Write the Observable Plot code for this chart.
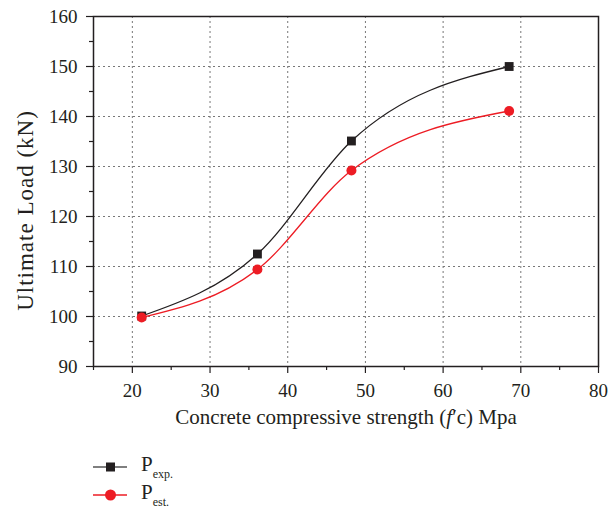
<!DOCTYPE html>
<html><head><meta charset="utf-8">
<script src="https://cdn.jsdelivr.net/npm/d3@7"></script>
<script src="https://cdn.jsdelivr.net/npm/@observablehq/plot@0.6"></script>
<style>
body{margin:0;background:#fff;font-family:"Liberation Serif",serif;color:#231f20;}
#wrap{position:relative;width:610px;height:511px;}
#legend{position:absolute;left:91px;top:453px;font-size:21px;}
.row{display:flex;align-items:center;height:28px;}
.row svg{margin-right:12px;}
sub{font-size:12px;vertical-align:-7px;}
</style></head><body><div id="wrap"><div id="chart"></div><div id="legend"></div></div><script>
const strength = [21.2, 36.1, 48.2, 68.5];
const pExp = [100.1, 112.5, 135.1, 150];
const pEst = [99.8, 109.4, 129.2, 141.1];
const xTicks = [20, 30, 40, 50, 60, 70, 80];
const xMinor = [15, 25, 35, 45, 55, 65, 75];
const yTicks = [90, 100, 110, 120, 130, 140, 150, 160];
const yMinor = [95, 105, 115, 125, 135, 145, 155];
const seriesNames = ["exp.", "est."];
const colors = ["#231f20", "#ed1c24"];
const xLabel = "Concrete compressive strength (f'c) Mpa";
const yLabel = "Ultimate Load (kN)";

const expData = strength.map((x, i) => ({x, y: pExp[i]}));
const estData = strength.map((x, i) => ({x, y: pEst[i]}));

const chart = Plot.plot({
  width: 610, height: 440,
  marginLeft: 93, marginRight: 12, marginTop: 16, marginBottom: 74,
  style: {fontFamily: "Liberation Serif, serif", fontSize: "19px", color: "#231f20", background: "#fff"},
  x: {domain: [15, 80]},
  y: {domain: [90, 160]},
  marks: [
    Plot.gridX(xTicks.filter(t => t > 15 && t < 80), {stroke: "#777", strokeOpacity: 1, strokeDasharray: "2,3", strokeWidth: 1}),
    Plot.gridY(yTicks.filter(t => t > 90 && t < 160), {stroke: "#777", strokeOpacity: 1, strokeDasharray: "2,3", strokeWidth: 1}),
    Plot.axisX(xMinor, {tickSize: 4, text: null, label: null, strokeWidth: 1.2}),
    Plot.axisY(yMinor, {tickSize: 4, text: null, label: null, strokeWidth: 1.2}),
    Plot.axisX(xTicks, {tickSize: 7, tickPadding: 10, fontSize: 19, strokeWidth: 1.2, label: null}),
    Plot.axisY(yTicks, {tickSize: 7, tickPadding: 9, fontSize: 19, strokeWidth: 1.2, label: null}),
    Plot.text([xLabel], {text: d => d, frameAnchor: "bottom", dy: 57, fontSize: 21, fill: "#231f20"}),
    Plot.text([yLabel], {text: d => d, frameAnchor: "left", textAnchor: "middle", dx: -68, dy: 19, rotate: -90, fontSize: 23, fill: "#231f20"}),
    Plot.frame({stroke: "#231f20", strokeWidth: 1.5}),
    Plot.line(expData, {x: "x", y: "y", curve: "monotone-x", stroke: colors[0], strokeWidth: 1.3}),
    Plot.line(estData, {x: "x", y: "y", curve: "monotone-x", stroke: colors[1], strokeWidth: 1.3}),
    Plot.dot(expData, {x: "x", y: "y", symbol: "square", r: 5, fill: colors[0], stroke: null}),
    Plot.dot(estData, {x: "x", y: "y", symbol: "circle", r: 5, fill: colors[1], stroke: null})
  ]
});
document.getElementById("chart").appendChild(chart);

// italic f in the x label, spacing on the y label
d3.select(chart).selectAll("text").each(function() {
  const t = d3.select(this);
  if (t.text() === xLabel) {
    t.text(null);
    t.append("tspan").text("Concrete compressive strength (");
    t.append("tspan").style("font-style", "italic").text("f");
    t.append("tspan").text("′c) Mpa");
  } else if (t.text() === yLabel) {
    t.style("letter-spacing", "1px");
  }
});

// legend
const legend = d3.select("#legend");
seriesNames.forEach((name, i) => {
  const row = legend.append("div").attr("class", "row");
  const s = row.append("svg").attr("width", 38).attr("height", 20);
  s.append("line").attr("x1", 2).attr("x2", 36).attr("y1", 10).attr("y2", 10).attr("stroke", i === 0 ? "#555" : colors[1]).attr("stroke-width", 1.5);
  if (i === 0) s.append("rect").attr("x", 15).attr("y", 5.5).attr("width", 9).attr("height", 9).attr("fill", colors[0]);
  else s.append("circle").attr("cx", 19.5).attr("cy", 10).attr("r", 5.5).attr("fill", colors[1]);
  const lab = row.append("span");
  lab.append("span").text("P");
  lab.append("sub").text(name);
});
</script></body></html>
